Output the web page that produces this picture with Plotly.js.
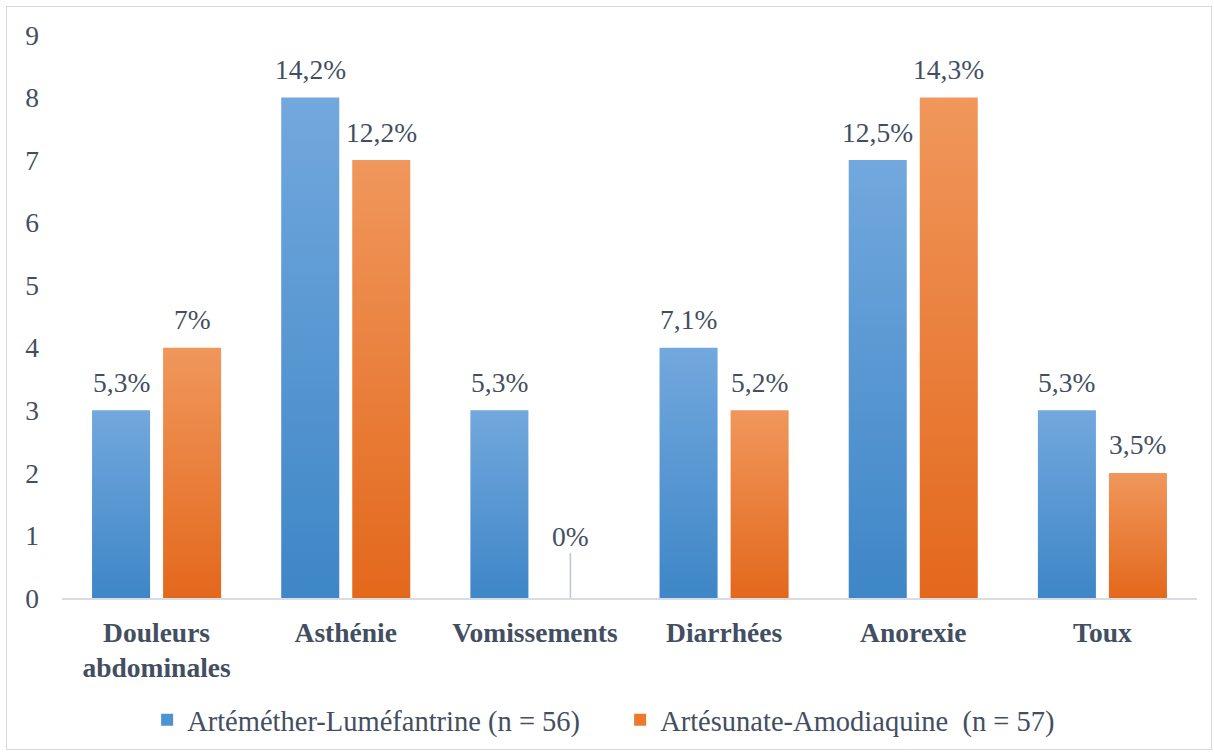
<!DOCTYPE html>
<html><head><meta charset="utf-8">
<script src="https://cdn.plot.ly/plotly-3.0.1.min.js"></script>
<style>html,body{margin:0;padding:0;background:#fff;}#chart{position:absolute;left:0;top:0;width:1214px;height:753px;}#frame{position:absolute;left:6px;top:6px;width:1206px;height:744px;border:1.5px solid #d6d9de;box-sizing:border-box;pointer-events:none;}</style>
</head><body>
<div id="chart"></div><div id="frame"></div>
<script>
const categories = ["Douleurs<br>abdominales", "Asthénie", "Vomissements", "Diarrhées", "Anorexie", "Toux"];
const seriesNames = ["Artéméther-Luméfantrine (n = 56)", "Artésunate-Amodiaquine  (n = 57)"];
const valuesAL = [3, 8, 3, 4, 7, 3];
const valuesAA = [4, 7, 0, 3, 8, 2];
const labelsAL = ["5,3%", "14,2%", "5,3%", "7,1%", "12,5%", "5,3%"];
const labelsAA = ["7%", "12,2%", "0%", "5,2%", "14,3%", "3,5%"];
const yTicks = [0,1,2,3,4,5,6,7,8,9];

const txtColor = '#434f61';
const fam = 'Liberation Serif';
const font = {family: fam, size: 27.5, color: txtColor};

const traces = [
  {type:'bar', name: seriesNames[0], x: categories, y: valuesAL, marker:{color:'#4f92d2'}, hoverinfo:'none'},
  {type:'bar', name: seriesNames[1], x: categories, y: valuesAA, marker:{color:'#ec7a2c'}, hoverinfo:'none'}
];

const offset = 35.5;
const annotations = [];
categories.forEach((c,i)=>{
  [[valuesAL,labelsAL,-offset],[valuesAA,labelsAA,offset]].forEach(([vals,labs,xs])=>{
    const v = vals[i];
    if (v === 0) {
      annotations.push({x:c, y:v, xref:'x', yref:'y', text:labs[i], showarrow:true, arrowhead:0,
        arrowwidth:1.5, arrowcolor:'#bcc6d3', ax:0, ay:-62, xshift:xs, font:font, standoff:0});
    } else {
      annotations.push({x:c, y:v, xref:'x', yref:'y', text:labs[i], showarrow:false,
        xshift:xs, yshift:28, font:font});
    }
  });
});

const layout = {
  width:1214, height:753,
  margin:{l:62, r:17, t:35, b:155, autoexpand:false},
  paper_bgcolor:'rgba(0,0,0,0)', plot_bgcolor:'rgba(0,0,0,0)',
  barmode:'group', bargap:0.249, bargroupgap:0.183,
  font: font,
  showlegend:true,
  legend:{orientation:'h', x:0.075, xanchor:'left', y:-0.172, yanchor:'top',
    font:{family:fam, size:28.5, color:txtColor}, itemwidth:30, entrywidth:428, traceorder:'normal'},
  xaxis:{type:'category', showline:true, linecolor:'#d9dde3', linewidth:1.5, ticks:'', showgrid:false,
    tickfont:{family: fam, size:27.5, color:txtColor, weight:'bold'}, ticklabelstandoff:9},
  yaxis:{range:[0,9], tickvals:yTicks, showgrid:false, zeroline:false, showline:false, ticks:'',
    tickfont:font, ticklabelstandoff:22},
  annotations: annotations
};

Plotly.newPlot('chart', traces, layout, {displayModeBar:false, staticPlot:true}).then(gd=>{
  const svg = gd.querySelector('svg.main-svg');
  const ns = 'http://www.w3.org/2000/svg';
  let defs = svg.querySelector('defs');
  const grads = [['gBlue','#72a8dd','#3e86c7'],['gOrange','#f0975c','#e3681c']];
  grads.forEach(([id,top,bot])=>{
    const lg = document.createElementNS(ns,'linearGradient');
    lg.setAttribute('id',id); lg.setAttribute('x1','0'); lg.setAttribute('y1','0'); lg.setAttribute('x2','0'); lg.setAttribute('y2','1');
    const s1 = document.createElementNS(ns,'stop'); s1.setAttribute('offset','0'); s1.setAttribute('stop-color',top);
    const s2 = document.createElementNS(ns,'stop'); s2.setAttribute('offset','1'); s2.setAttribute('stop-color',bot);
    lg.appendChild(s1); lg.appendChild(s2); defs.appendChild(lg);
  });
  gd.querySelectorAll('.barlayer .trace').forEach((t,k)=>{
    t.querySelectorAll('path').forEach(p=>{ p.style.fill = 'url(#'+grads[k][0]+')'; });
  });
});
</script>
</body></html>
